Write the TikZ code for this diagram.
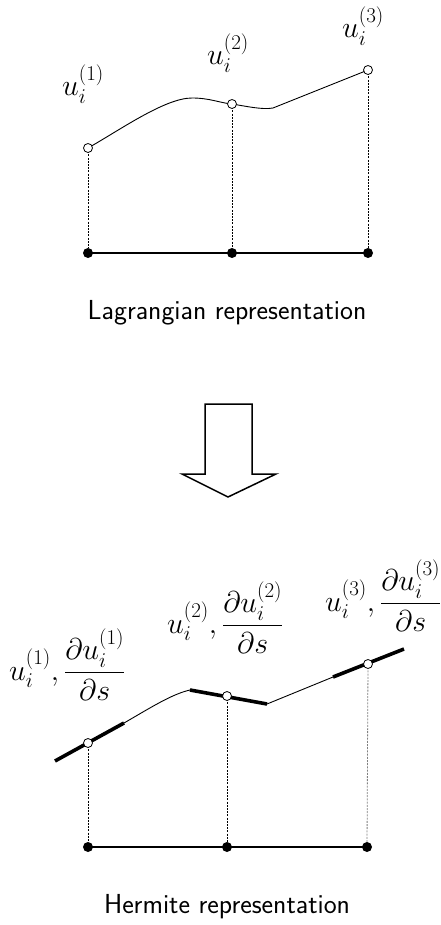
\RequirePackage{fix-cm}
\documentclass[tikz,border=0pt]{standalone}
\usepackage{amsmath}
\begin{document}
\begin{tikzpicture}[x=1pt,y=-1pt,
  opendot/.style={circle,draw,fill=white,line width=0.8pt,inner sep=0pt,minimum size=9pt},
  soliddot/.style={circle,fill=black,inner sep=0pt,minimum size=10pt},
  thin curve/.style={line width=0.9pt},
  tangent/.style={line width=3.6pt},
  baseline/.style={line width=2.4pt},
  dropline/.style={line width=0.8pt,dash pattern=on 2pt off 1.2pt},
  mlabel/.style={inner sep=0pt,font=\fontsize{30}{34}\selectfont},
  caption/.style={inner sep=0pt,font=\fontsize{27.5}{32}\selectfont\sffamily}]
\useasboundingbox (0,0) rectangle (441,925);

% ---------- Lagrangian ----------
\node[soliddot] (b1) at (88,253) {};
\node[soliddot] (b2) at (232,253) {};
\node[soliddot] (b3) at (368,253) {};
\draw[baseline] (b1.center) -- (b2.center) -- (b3.center);

\coordinate (p1) at (88,148);
\coordinate (p2) at (232,104);
\coordinate (p3) at (368,70);
\draw[dropline] (p1) -- (b1);
\draw[dropline] (p2) -- (b2);
\draw[dropline] (p3) -- (b3);
\draw[thin curve] (p1) .. controls (120,130) and (165,98) .. (192,98)
  .. controls (210,98) and (220,103) .. (p2)
  .. controls (245,106) and (262,110) .. (273,108) -- (p3);
\node[opendot] (c1) at (p1) {};
\node[opendot] (c2) at (p2) {};
\node[opendot] (c3) at (p3) {};

\node[mlabel,anchor=base west] (l1) at (62,96) {$u_i^{(1)}$};
\node[mlabel,anchor=base west] (l2) at (207,65) {$u_i^{(2)}$};
\node[mlabel,anchor=base west] (l3) at (342,38) {$u_i^{(3)}$};

\node[caption] (cap1) at (227,313) {Lagrangian representation};

% ---------- arrow ----------
\draw[line width=1.5pt,fill=white] (205,404) -- (252,404) -- (252,474) -- (276,474)
  -- (228,497) -- (182,474) -- (205,474) -- cycle;

% ---------- Hermite ----------
\node[soliddot] (d1) at (88,847) {};
\node[soliddot] (d2) at (227,847) {};
\node[soliddot] (d3) at (367,847) {};
\draw[baseline] (d1.center) -- (d2.center) -- (d3.center);

\coordinate (h1) at (88,743);
\coordinate (h2) at (227,696);
\coordinate (h3) at (368,664);
\draw[dropline] (h1) -- (d1);
\draw[dropline] (h2) -- (d2);
\draw[dropline,gray] (h3) -- (d3);

\coordinate (t1a) at (55,761);
\coordinate (t1b) at (124,723);
\coordinate (t2a) at (190,690);
\coordinate (t2b) at (267,704);
\coordinate (t3a) at (333,677);
\coordinate (t3b) at (404,649);
\draw[thin curve] (t1b) .. controls (150,708) and (172,694) .. (t2a);
\draw[thin curve] (t2b) -- (t3a);
\draw[tangent] (t1a) -- (t1b);
\draw[tangent] (t2a) -- (t2b);
\draw[tangent] (t3a) -- (t3b);
\node[opendot] (e1) at (h1) {};
\node[opendot] (e2) at (h2) {};
\node[opendot] (e3) at (h3) {};

\node[mlabel,anchor=base west] (k1) at (9,680) {$u_i^{(1)},\dfrac{\partial u_i^{(1)}}{\partial s}$};
\node[mlabel,anchor=base west] (k2) at (167,633) {$u_i^{(2)},\dfrac{\partial u_i^{(2)}}{\partial s}$};
\node[mlabel,anchor=base west] (k3) at (325,611) {$u_i^{(3)},\dfrac{\partial u_i^{(3)}}{\partial s}$};

\node[caption] (cap2) at (227,907) {Hermite representation};
\end{tikzpicture}
\end{document}
